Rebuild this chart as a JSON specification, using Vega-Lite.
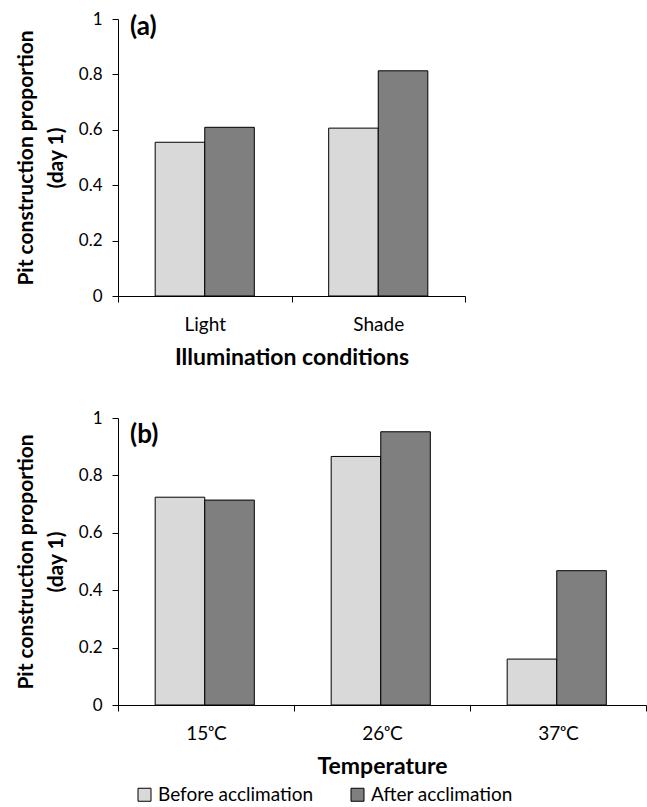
{
  "$schema": "https://vega.github.io/schema/vega-lite/v6.json",
  "padding": {"left": 15, "top": 10, "right": 0, "bottom": 0},
  "datasets": {
    "a": [
      {"cond": "Light", "group": "Before acclimation", "value": 0.555},
      {"cond": "Light", "group": "After acclimation", "value": 0.609},
      {"cond": "Shade", "group": "Before acclimation", "value": 0.606},
      {"cond": "Shade", "group": "After acclimation", "value": 0.813}
    ],
    "b": [
      {"cond": "15ᵒC", "group": "Before acclimation", "value": 0.724},
      {"cond": "15ᵒC", "group": "After acclimation", "value": 0.714},
      {"cond": "26ᵒC", "group": "Before acclimation", "value": 0.866},
      {"cond": "26ᵒC", "group": "After acclimation", "value": 0.952},
      {"cond": "37ᵒC", "group": "Before acclimation", "value": 0.160},
      {"cond": "37ᵒC", "group": "After acclimation", "value": 0.468}
    ]
  },
  "spacing": 40,
  "vconcat": [
    {
      "data": {"name": "a"},
      "width": 347,
      "height": 277,
      "title": {"text": "(a)", "anchor": "start", "frame": "group", "orient": "top", "offset": 0, "baseline": "top", "dx": 12, "dy": 30, "fontSize": 26, "fontWeight": "bold", "font": "Lato", "color": "black"},
      "mark": {"type": "bar", "stroke": "black", "strokeWidth": 1},
      "encoding": {
        "x": {"field": "cond", "type": "nominal", "sort": ["Light", "Shade"], "title": "Illumination conditions", "scale": {"paddingInner": 0, "paddingOuter": 0}, "axis": {"tickBand": "extent", "labelAngle": 0}},
        "xOffset": {"field": "group", "type": "nominal", "sort": ["Before acclimation", "After acclimation"], "scale": {"paddingInner": 0, "paddingOuter": 0.75}},
        "y": {"field": "value", "type": "quantitative", "scale": {"domain": [0, 1]}, "title": ["Pit construction proportion", "(day 1)"], "axis": {"tickCount": 5, "format": "~g"}},
        "color": {"field": "group", "type": "nominal", "sort": ["Before acclimation", "After acclimation"], "scale": {"domain": ["Before acclimation", "After acclimation"], "range": ["#d9d9d9", "#7f7f7f"]}, "legend": {"title": null, "orient": "none", "legendX": 17, "legendY": 766, "direction": "horizontal"}}
      }
    },
    {
      "data": {"name": "b"},
      "width": 528,
      "height": 287,
      "title": {"text": "(b)", "anchor": "start", "frame": "group", "orient": "top", "offset": 0, "baseline": "top", "dx": 12, "dy": 39, "fontSize": 26, "fontWeight": "bold", "font": "Lato", "color": "black"},
      "mark": {"type": "bar", "stroke": "black", "strokeWidth": 1},
      "encoding": {
        "x": {"field": "cond", "type": "nominal", "sort": ["15ᵒC", "26ᵒC", "37ᵒC"], "title": "Temperature", "scale": {"paddingInner": 0, "paddingOuter": 0}, "axis": {"tickBand": "extent", "labelAngle": 0}},
        "xOffset": {"field": "group", "type": "nominal", "sort": ["Before acclimation", "After acclimation"], "scale": {"paddingInner": 0, "paddingOuter": 0.76}},
        "y": {"field": "value", "type": "quantitative", "scale": {"domain": [0, 1]}, "title": ["Pit construction proportion", "(day 1)"], "axis": {"tickCount": 5, "format": "~g"}},
        "color": {"field": "group", "type": "nominal", "sort": ["Before acclimation", "After acclimation"], "scale": {"domain": ["Before acclimation", "After acclimation"], "range": ["#d9d9d9", "#7f7f7f"]}, "legend": {"title": null, "orient": "none", "legendX": 17, "legendY": 766, "direction": "horizontal"}}
      }
    }
  ],
  "config": {
    "view": {"stroke": null},
    "font": "Lato",
    "axis": {
      "grid": false,
      "domainColor": "black",
      "domainWidth": 1,
      "tickColor": "black",
      "tickSize": 6,
      "tickWidth": 1,
      "labelColor": "black",
      "labelFont": "Lato",
      "titleColor": "black",
      "titleFont": "Lato",
      "titleFontWeight": "bold"
    },
    "axisY": {"titlePadding": 12, "titleLineHeight": 30, "titleFontSize": 21, "labelFontSize": 17, "labelPadding": 10},
    "axisX": {"titlePadding": 12, "titleFontSize": 23, "labelFontSize": 19, "labelPadding": 13},
    "legend": {
      "symbolType": "square",
      "symbolSize": 169,
      "symbolStrokeColor": "black",
      "symbolStrokeWidth": 1,
      "labelFont": "Lato",
      "labelFontSize": 19,
      "labelColor": "black",
      "labelOffset": 4,
      "columnPadding": 34
    }
  }
}
